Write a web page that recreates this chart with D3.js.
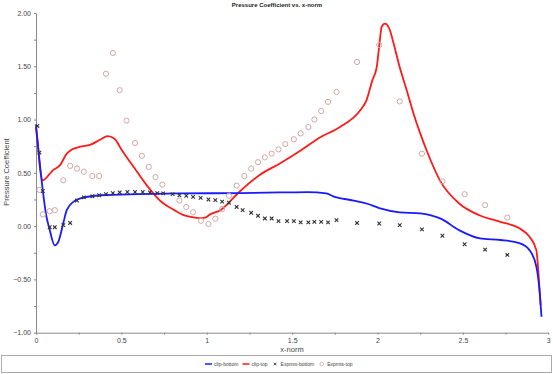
<!DOCTYPE html>
<html>
<head>
<meta charset="utf-8">
<script src="https://cdn.jsdelivr.net/npm/d3@7"></script>
<style>
  body { margin: 0; background: #fff; }
  svg { display: block; font-family: "Liberation Sans", Arial, sans-serif; }
  .axis path, .axis line { stroke: #888; }
  .axis text { fill: #444; font-size: 7px; }
</style>
</head>
<body>
<svg id="chart" width="553" height="374"></svg>
<script>
// clip-bottom line
var bottomX = [0, 0.012, 0.035, 0.06, 0.078, 0.11, 0.13, 0.16, 0.18, 0.22, 0.26, 0.38, 0.6, 0.84, 1.2, 1.43, 1.59, 1.70, 1.74, 1.86, 1.94, 2.01, 2.13, 2.25, 2.37, 2.48, 2.60, 2.72, 2.83, 2.89, 2.93, 2.95, 2.96];
var bottomY = [0.95, 0.75, 0.40, 0.10, -0.02, -0.18, -0.15, 0.03, 0.15, 0.23, 0.26, 0.29, 0.30, 0.307, 0.31, 0.316, 0.32, 0.307, 0.28, 0.24, 0.21, 0.17, 0.13, 0.12, 0.07, -0.04, -0.115, -0.13, -0.16, -0.225, -0.38, -0.63, -0.85];

// clip-top line
var topX = [0, 0.012, 0.023, 0.039, 0.08, 0.10, 0.14, 0.18, 0.21, 0.26, 0.32, 0.375, 0.42, 0.46, 0.50, 0.57, 0.65, 0.726, 0.81, 0.87, 0.90, 0.96, 0.99, 1.02, 1.08, 1.19, 1.31, 1.43, 1.55, 1.66, 1.78, 1.90, 1.935, 1.97, 1.995, 2.014, 2.024, 2.043, 2.07, 2.09, 2.13, 2.17, 2.21, 2.25, 2.29, 2.365, 2.48, 2.60, 2.72, 2.83, 2.89, 2.93, 2.945, 2.955];
var topY = [0.92, 0.75, 0.55, 0.43, 0.49, 0.525, 0.57, 0.68, 0.72, 0.745, 0.765, 0.81, 0.845, 0.82, 0.72, 0.56, 0.38, 0.24, 0.15, 0.10, 0.09, 0.075, 0.08, 0.11, 0.15, 0.32, 0.48, 0.59, 0.71, 0.83, 0.93, 1.09, 1.18, 1.37, 1.49, 1.75, 1.87, 1.90, 1.85, 1.74, 1.49, 1.28, 1.06, 0.87, 0.70, 0.43, 0.21, 0.10, 0.04, -0.02, -0.10, -0.225, -0.5, -0.74];

// Expmts-bottom markers
var expBottomX = [0.008, 0.02, 0.04, 0.08, 0.11, 0.16, 0.20, 0.24, 0.28, 0.33, 0.37, 0.41, 0.45, 0.49, 0.535, 0.58, 0.625, 0.667, 0.71, 0.745, 0.80, 0.84, 0.88, 0.92, 0.964, 1.01, 1.05, 1.09, 1.13, 1.175, 1.21, 1.26, 1.30, 1.34, 1.38, 1.42, 1.47, 1.51, 1.55, 1.595, 1.63, 1.67, 1.71, 1.76, 1.88, 2.01, 2.13, 2.26, 2.38, 2.51, 2.63, 2.76];
var expBottomY = [0.94, 0.69, 0.33, -0.01, -0.01, 0.01, 0.03, 0.24, 0.27, 0.28, 0.29, 0.30, 0.31, 0.316, 0.32, 0.32, 0.32, 0.316, 0.31, 0.307, 0.30, 0.29, 0.285, 0.275, 0.265, 0.25, 0.244, 0.23, 0.22, 0.18, 0.15, 0.125, 0.097, 0.072, 0.072, 0.047, 0.047, 0.047, 0.035, 0.035, 0.04, 0.04, 0.035, 0.056, 0.03, 0.025, 0.01, -0.03, -0.09, -0.17, -0.22, -0.27];

// Expmts-top markers
var expTopX = [0.02, 0.04, 0.08, 0.11, 0.16, 0.20, 0.24, 0.28, 0.33, 0.37, 0.41, 0.45, 0.49, 0.53, 0.58, 0.62, 0.66, 0.70, 0.74, 0.84, 0.88, 0.92, 0.966, 1.01, 1.05, 1.09, 1.13, 1.175, 1.22, 1.26, 1.30, 1.34, 1.38, 1.42, 1.46, 1.51, 1.55, 1.595, 1.63, 1.67, 1.71, 1.76, 1.88, 2.01, 2.13, 2.26, 2.38, 2.51, 2.63, 2.76];
var expTopY = [0.34, 0.11, 0.14, 0.15, 0.43, 0.565, 0.54, 0.51, 0.47, 0.47, 1.43, 1.625, 1.276, 0.99, 0.78, 0.66, 0.556, 0.46, 0.39, 0.24, 0.18, 0.13, 0.05, 0.02, 0.07, 0.16, 0.285, 0.38, 0.47, 0.54, 0.60, 0.645, 0.68, 0.72, 0.77, 0.815, 0.87, 0.93, 1.00, 1.08, 1.166, 1.26, 1.54, 1.70, 1.17, 0.68, 0.42, 0.30, 0.197, 0.08];

var xTicks = [0, 0.5, 1, 1.5, 2, 2.5, 3];
var yTicks = [-1, -0.5, 0, 0.5, 1, 1.5, 2];
var legendNames = ["clip-bottom", "clip-top", "Expmts-bottom", "Expmts-top"];

var svg = d3.select("#chart");
var x = d3.scaleLinear().domain([0, 3]).range([36, 548.3]);
var y = d3.scaleLinear().domain([-1, 2]).range([332.7, 13]);

function zip(xs, ys) {
  return xs.map(function(v, i) { return [v, ys[i]]; });
}

// title
svg.append("text")
  .attr("x", 277).attr("y", 7)
  .attr("text-anchor", "middle")
  .style("font-size", "6px").style("font-weight", "bold").style("fill", "#222")
  .text("Pressure Coefficient vs. x-norm");

// axes
svg.append("g").attr("class", "axis")
  .attr("transform", "translate(0," + y(-1) + ")")
  .call(d3.axisBottom(x).tickValues(d3.range(0, 3.01, 0.25)).tickSize(2).tickSizeOuter(0)
    .tickFormat(function(d) { return xTicks.indexOf(d) >= 0 ? d3.format("")(d) : ""; }));

svg.append("g").attr("class", "axis")
  .attr("transform", "translate(" + x(0) + ",0)")
  .call(d3.axisLeft(y).tickValues(d3.range(-1, 2.01, 0.25)).tickSize(2).tickSizeOuter(0)
    .tickFormat(function(d) { return yTicks.indexOf(d) >= 0 ? d3.format(".2f")(d) : ""; }));

svg.selectAll(".axis text").filter(function() { return this.textContent === ""; }).remove();

svg.append("text")
  .attr("x", 292).attr("y", 352)
  .attr("text-anchor", "middle")
  .style("font-size", "7.5px").style("fill", "#444")
  .text("x-norm");

svg.append("text")
  .attr("transform", "translate(9,172) rotate(-90)")
  .attr("text-anchor", "middle")
  .style("font-size", "7.5px").style("fill", "#444")
  .text("Pressure Coefficient");

// lines
var line = d3.line()
  .x(function(d) { return x(d[0]); })
  .y(function(d) { return y(d[1]); })
  .curve(d3.curveMonotoneX);

svg.append("path").datum(zip(topX, topY))
  .attr("d", line).attr("fill", "none")
  .attr("stroke", "#ff1a1a").attr("stroke-width", 1.8);

svg.append("path").datum(zip(bottomX, bottomY))
  .attr("d", line).attr("fill", "none")
  .attr("stroke", "#1a1aff").attr("stroke-width", 1.8);

// markers
svg.append("g").selectAll("circle")
  .data(zip(expTopX, expTopY))
  .enter().append("circle")
  .attr("cx", function(d) { return x(d[0]); })
  .attr("cy", function(d) { return y(d[1]); })
  .attr("r", 2.6)
  .attr("fill", "none").attr("stroke", "#d4a8a8").attr("stroke-width", 1);

var cross = "M-1.8,-1.8L1.8,1.8M-1.8,1.8L1.8,-1.8";
svg.append("g").selectAll("path")
  .data(zip(expBottomX, expBottomY))
  .enter().append("path")
  .attr("transform", function(d) { return "translate(" + x(d[0]) + "," + y(d[1]) + ")"; })
  .attr("d", cross)
  .attr("stroke", "#333").attr("stroke-width", 1.1);

// legend
svg.append("rect")
  .attr("x", 1.5).attr("y", 355.5).attr("width", 550).attr("height", 17)
  .attr("fill", "none").attr("stroke", "#aaa");

var lg = svg.append("g").style("font-size", "5px").style("fill", "#444");
var gx = 205;
legendNames.forEach(function(name, i) {
  if (i < 2) {
    lg.append("line").attr("x1", gx).attr("x2", gx + 7).attr("y1", 364).attr("y2", 364)
      .attr("stroke", i === 0 ? "#1a1aff" : "#ff1a1a").attr("stroke-width", 1.5);
  } else if (i === 2) {
    lg.append("path").attr("transform", "translate(" + (gx + 3.5) + ",364)")
      .attr("d", "M-1.3,-1.3L1.3,1.3M-1.3,1.3L1.3,-1.3").attr("stroke", "#333").attr("stroke-width", 0.9);
  } else {
    lg.append("circle").attr("cx", gx + 3.5).attr("cy", 364).attr("r", 1.8)
      .attr("fill", "none").attr("stroke", "#d4a8a8").attr("stroke-width", 0.8);
  }
  var t = lg.append("text").attr("x", gx + 9).attr("y", 366).text(name);
  gx += 9 + t.node().getComputedTextLength() + 4;
});
</script>
</body>
</html>
